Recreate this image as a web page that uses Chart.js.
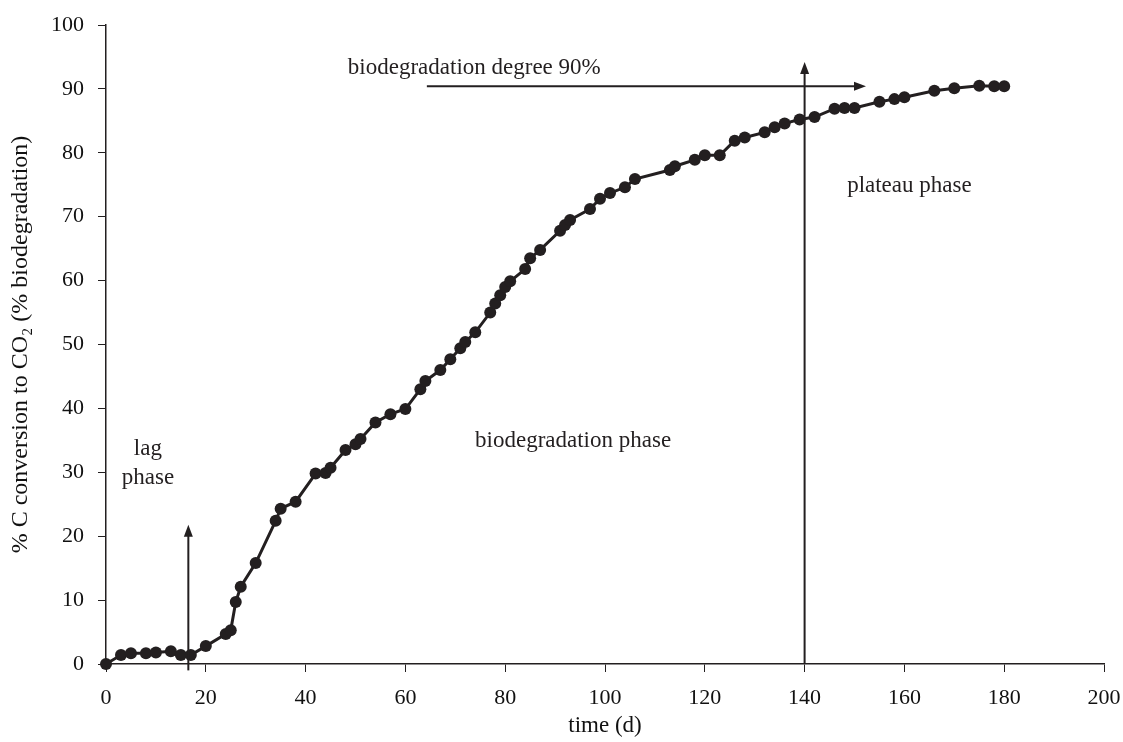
<!DOCTYPE html>
<html>
<head>
<meta charset="utf-8">
<script src="https://cdn.jsdelivr.net/npm/chart.js@4.4.1/dist/chart.umd.min.js"></script>
<style>
  html, body { margin: 0; padding: 0; background: #ffffff; }
  #wrap { width: 1123px; height: 742px; }
</style>
</head>
<body>
<div id="wrap"><canvas id="chart" width="1123" height="742"></canvas></div>
<script>
// time in days and % C conversion
const days = [0, 3, 5, 8, 10, 13, 15, 17, 20, 24, 25, 26, 27, 30, 34, 35, 38, 42, 44, 45,
  48, 50, 51, 54, 57, 60, 63, 64, 67, 69, 71, 72, 74, 77, 78, 79, 80, 81, 84, 85,
  87, 91, 92, 93, 97, 99, 101, 104, 106, 113, 114, 118, 120, 123, 126, 128, 132, 134, 136, 139,
  142, 146, 148, 150, 155, 158, 160, 166, 170, 175, 178, 180];
const conversion = [0, 1.4, 1.7, 1.7, 1.8, 2.0, 1.4, 1.4, 2.8, 4.7, 5.3, 9.7, 12.1, 15.8, 22.4, 24.3, 25.4, 29.8, 29.9, 30.7,
  33.5, 34.4, 35.2, 37.8, 39.1, 39.9, 43.0, 44.3, 46.0, 47.7, 49.4, 50.4, 51.9, 55.0, 56.4, 57.7, 59.0, 59.9, 61.8, 63.5,
  64.8, 67.8, 68.7, 69.5, 71.2, 72.8, 73.7, 74.6, 75.9, 77.3, 77.9, 78.9, 79.6, 79.6, 81.9, 82.4, 83.2, 84.0, 84.6, 85.2,
  85.6, 86.9, 87.0, 87.0, 88.0, 88.4, 88.7, 89.7, 90.1, 90.5, 90.4, 90.4];

const xTicks = [0, 20, 40, 60, 80, 100, 120, 140, 160, 180, 200];
const yTicks = [0, 10, 20, 30, 40, 50, 60, 70, 80, 90, 100];

// notes and arrows, in data units
const notes = [
  { text: "biodegradation degree 90%", x: 73.8, y: 93.2 },
  { text: "plateau phase", x: 161, y: 74.8 },
  { text: "biodegradation phase", x: 93.6, y: 34.9 },
  { text: "lag", x: 8.4, y: 33.6 },
  { text: "phase", x: 8.4, y: 29.1 }
];
const arrows = [
  { x1: 16.5, y1: -1.0, x2: 16.5, y2: 21.8 },
  { x1: 140, y1: 0, x2: 140, y2: 94.2 },
  { x1: 64.3, y1: 90.4, x2: 152.3, y2: 90.4 }
];

const ink = "#231f20";
const serif = "'Liberation Serif', 'Times New Roman', serif";

const notesPlugin = {
  id: "notes",
  afterDatasetsDraw(chart) {
    const ctx = chart.ctx;
    const xs = chart.scales.x, ys = chart.scales.y;
    ctx.save();
    ctx.strokeStyle = ink;
    ctx.fillStyle = ink;
    ctx.lineWidth = 2;
    arrows.forEach(a => {
      const x1 = xs.getPixelForValue(a.x1), y1 = ys.getPixelForValue(a.y1);
      const x2 = xs.getPixelForValue(a.x2), y2 = ys.getPixelForValue(a.y2);
      const ang = Math.atan2(y2 - y1, x2 - x1);
      const len = 12, half = 4.5;
      ctx.beginPath();
      ctx.moveTo(x1, y1);
      ctx.lineTo(x2 - Math.cos(ang) * len * 0.8, y2 - Math.sin(ang) * len * 0.8);
      ctx.stroke();
      ctx.beginPath();
      ctx.moveTo(x2, y2);
      ctx.lineTo(x2 - Math.cos(ang) * len - Math.sin(ang) * half, y2 - Math.sin(ang) * len + Math.cos(ang) * half);
      ctx.lineTo(x2 - Math.cos(ang) * len + Math.sin(ang) * half, y2 - Math.sin(ang) * len - Math.cos(ang) * half);
      ctx.closePath();
      ctx.fill();
    });
    ctx.font = "23px " + serif;
    ctx.textAlign = "center";
    ctx.textBaseline = "middle";
    notes.forEach(n => {
      ctx.fillText(n.text, xs.getPixelForValue(n.x), ys.getPixelForValue(n.y));
    });
    ctx.restore();
  }
};

new Chart(document.getElementById("chart"), {
  type: "scatter",
  data: {
    datasets: [{
      data: days.map((d, i) => ({ x: d, y: conversion[i] })),
      showLine: true,
      borderColor: ink,
      borderWidth: 3,
      backgroundColor: ink,
      pointBackgroundColor: ink,
      pointBorderColor: ink,
      pointRadius: 6,
      pointBorderWidth: 0,
      clip: false
    }]
  },
  options: {
    responsive: false,
    animation: false,
    devicePixelRatio: 1,
    layout: { padding: { top: 25, right: 19, left: 0, bottom: 0 } },
    plugins: { legend: { display: false }, tooltip: { enabled: false } },
    scales: {
      x: {
        type: "linear",
        min: 0, max: 200,
        afterBuildTicks: s => { s.ticks = xTicks.map(v => ({ value: v })); },
        afterFit: s => { s.height = 78; s.paddingLeft = 0; s.paddingRight = 0; },
        ticks: { color: "#111", font: { family: serif, size: 22 }, padding: 13, maxRotation: 0 },
        grid: { drawOnChartArea: false, drawTicks: true, tickLength: 8, color: ink, lineWidth: 1 },
        border: { display: true, color: ink, width: 1.5 },
        title: { display: true, text: "time (d)", color: "#111", font: { family: serif, size: 23 }, padding: { top: 0, bottom: 2 } }
      },
      y: {
        type: "linear",
        min: 0, max: 100,
        afterBuildTicks: s => { s.ticks = yTicks.map(v => ({ value: v })); },
        afterFit: s => { s.width = 106; s.paddingTop = 0; s.paddingBottom = 0; },
        ticks: { color: "#111", font: { family: serif, size: 22 }, padding: 14 },
        grid: { drawOnChartArea: false, drawTicks: true, tickLength: 8, color: ink, lineWidth: 1 },
        border: { display: true, color: ink, width: 1.5 },
        title: { display: true, text: "% C conversion to CO\u2082 (% biodegradation)", color: "#111", font: { family: serif, size: 24 }, padding: { top: 6, bottom: 0 } }
      }
    }
  },
  plugins: [notesPlugin]
});
</script>
</body>
</html>
